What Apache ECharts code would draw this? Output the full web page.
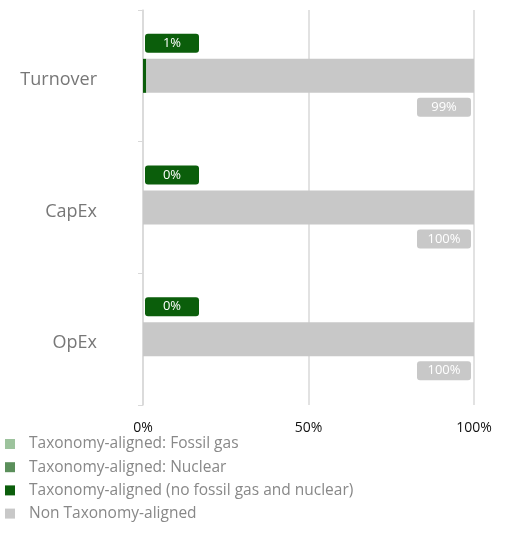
<!DOCTYPE html>
<html><head><meta charset="utf-8">
<script src="https://cdn.jsdelivr.net/npm/echarts@6/dist/echarts.min.js"></script>
<style>html,body{margin:0;padding:0;background:#fff}#c{width:505px;height:558px}</style>
</head><body><div id="c"></div>
<script>
const categories = ["Turnover", "CapEx", "OpEx"];
const fossilGas = [0, 0, 0];
const nuclear = [0, 0, 0];
const aligned = [1, 0, 0];
const nonAligned = [99, 100, 100];
const xTicks = [0, 50, 100];

const chart = echarts.init(document.getElementById('c'), null, {renderer: 'canvas'});
const font = '"Open Sans", sans-serif';
chart.setOption({
  animation: false,
  grid: {left: 143, right: 31, top: 10, bottom: 153, containLabel: false},
  legend: {
    orient: 'vertical', left: 0, top: 431, itemWidth: 10, itemHeight: 10, itemGap: 7.2,
    icon: 'rect',
    textStyle: {fontFamily: font, fontSize: 15.5, color: '#888', padding: [0, 0, 0, 9]},
    data: ['Taxonomy-aligned: Fossil gas', 'Taxonomy-aligned: Nuclear', 'Taxonomy-aligned (no fossil gas and nuclear)', 'Non Taxonomy-aligned']
  },
  xAxis: {
    type: 'value', min: 0, max: 100, interval: 50,
    axisLine: {show: false}, axisTick: {show: false},
    splitLine: {show: true, lineStyle: {color: '#d9d9d9', width: 1.5}},
    axisLabel: {formatter: v => xTicks.includes(v) ? v + '%' : '', fontFamily: font, fontSize: 14, color: '#111', margin: 16}
  },
  yAxis: {
    type: 'category', data: categories, inverse: true,
    axisLine: {show: true, lineStyle: {color: '#d9d9d9', width: 1.5}},
    axisTick: {show: true, length: 5, lineStyle: {color: '#d9d9d9'}},
    axisLabel: {margin: 46, formatter: v => '{a|' + v + '}',
      rich: {a: {fontFamily: font, fontSize: 18, color: '#777', padding: [8, 0, 0, 0]}}}
  },
  series: [
    {name: 'Taxonomy-aligned: Fossil gas', type: 'bar', stack: 's', data: fossilGas, barWidth: 34,
     itemStyle: {color: '#9dc39d'}},
    {name: 'Taxonomy-aligned: Nuclear', type: 'bar', stack: 's', data: nuclear, barWidth: 34,
     itemStyle: {color: '#5b8f5b'}},
    {name: 'Taxonomy-aligned (no fossil gas and nuclear)', type: 'bar', stack: 's', data: aligned, barWidth: 34,
     itemStyle: {color: '#0b5e0b'},
     label: {show: true, position: [2, -25], formatter: p => '{a|' + p.value + '%}',
       rich: {a: {color: '#fff', fontFamily: font, fontSize: 13, backgroundColor: '#0b5e0b', borderRadius: 3,
         width: 54, height: 19, lineHeight: 19, align: 'center'}}}},
    {name: 'Non Taxonomy-aligned', type: 'bar', stack: 's', data: nonAligned, barWidth: 34,
     itemStyle: {color: '#c8c8c8'},
     label: {show: true, position: ['100%', '100%'], offset: [-57, 5], formatter: p => '{a|' + p.value + '%}',
       rich: {a: {color: '#fff', fontFamily: font, fontSize: 13, backgroundColor: '#c8c8c8', borderRadius: 3,
         width: 54, height: 19, lineHeight: 19, align: 'center'}}}}
  ]
});
</script></body></html>
